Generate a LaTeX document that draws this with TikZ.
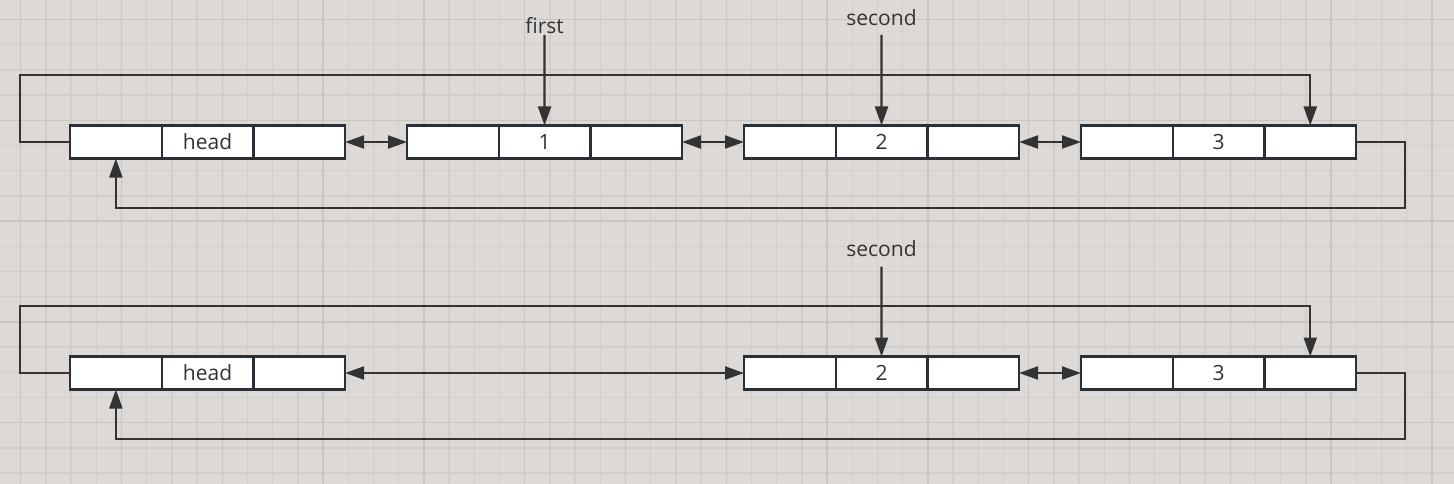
\documentclass[tikz,border=0pt]{standalone}
\usepackage{fontspec}
\setmainfont{Open Sans}
\usetikzlibrary{positioning,arrows.meta}
\definecolor{bgc}{RGB}{221,217,214}
\definecolor{gridc}{RGB}{209,205,202}
\definecolor{majc}{RGB}{201,197,194}
\definecolor{linec}{RGB}{51,51,51}
\definecolor{cellc}{RGB}{43,48,54}
\begin{document}
\begin{tikzpicture}[x=1pt,y=-1pt,>={Triangle[length=19pt,width=13pt]}] % y grows down, like the screen
\tikzstyle{cell} = [draw=cellc, fill=white, line width=2.3pt, minimum width=91.7pt, minimum height=33pt, inner sep=0pt, outer sep=0pt, text=linec, font=\fontsize{21}{25}\selectfont] % one field of a list node
\tikzstyle{ptr} = [draw=linec, line width=2.2pt, ->] % link
\tikzstyle{dptr} = [draw=linec, line width=2.2pt, <->] % two-way link
\tikzstyle{lbl} = [text=linec, inner sep=0pt, font=\fontsize{21}{25}\selectfont] % pointer name

% paper and grid
\fill[bgc] (0,0) rectangle (1454,484);
\useasboundingbox (0,0) rectangle (1454,484);
\foreach \k in {0,...,56} {
    \draw[gridc, line width=1.5pt] ({20.7+25.2*\k},0) -- ({20.7+25.2*\k},484);}
\foreach \k in {0,...,18} {
    \draw[gridc, line width=1.5pt] (0,{19.5+25.2*\k}) -- (1454,{19.5+25.2*\k});}
\foreach \k in {0,4,...,56} {
    \draw[majc, line width=1.5pt] ({20.7+25.2*\k},0) -- ({20.7+25.2*\k},484);}
\foreach \k in {0,4,...,16} {
    \draw[majc, line width=1.5pt] (0,{19.5+25.2*\k}) -- (1454,{19.5+25.2*\k});}

% list before the delete
\foreach \n/\x/\t in {a/115.85/head, b/452.85/1, c/789.85/2, d/1126.85/3} {
    \node[cell] (\n1) at (\x,142) {};
    \node[cell, right=0pt of \n1] (\n2) {\t};
    \node[cell, right=0pt of \n2] (\n3) {};
}
\draw[dptr] (a3) -- (b1);
\draw[dptr] (b3) -- (c1);
\draw[dptr] (c3) -- (d1);
\draw[ptr] (a1.west) -- ++(-50,0) -- ++(0,-67) -| (d3.north);
\draw[ptr] (d3.east) -- ++(49,0) -- ++(0,66) -| (a1.south);

\node[lbl] (first) at (544.55,25.5) {first};
\coordinate (pf) at (544.55,35);
\draw[ptr] (pf) -- (b2);
\node[lbl] (second) at (881.55,17.7) {second};
\coordinate (ps) at (881.55,35);
\draw[ptr] (ps) -- (c2);

% list after the delete
\foreach \n/\x/\t in {e/115.85/head, f/789.85/2, g/1126.85/3} {
    \node[cell] (\n1) at (\x,373) {};
    \node[cell, right=0pt of \n1] (\n2) {\t};
    \node[cell, right=0pt of \n2] (\n3) {};
}
\draw[dptr] (e3) -- (f1);
\draw[dptr] (f3) -- (g1);
\draw[ptr] (e1.west) -- ++(-50,0) -- ++(0,-67) -| (g3.north);
\draw[ptr] (g3.east) -- ++(49,0) -- ++(0,66) -| (e1.south);

\node[lbl] (second2) at (881.55,249) {second};
\coordinate (ps2) at (881.55,266.7);
\draw[ptr] (ps2) -- (f2);
\end{tikzpicture}
\end{document}
